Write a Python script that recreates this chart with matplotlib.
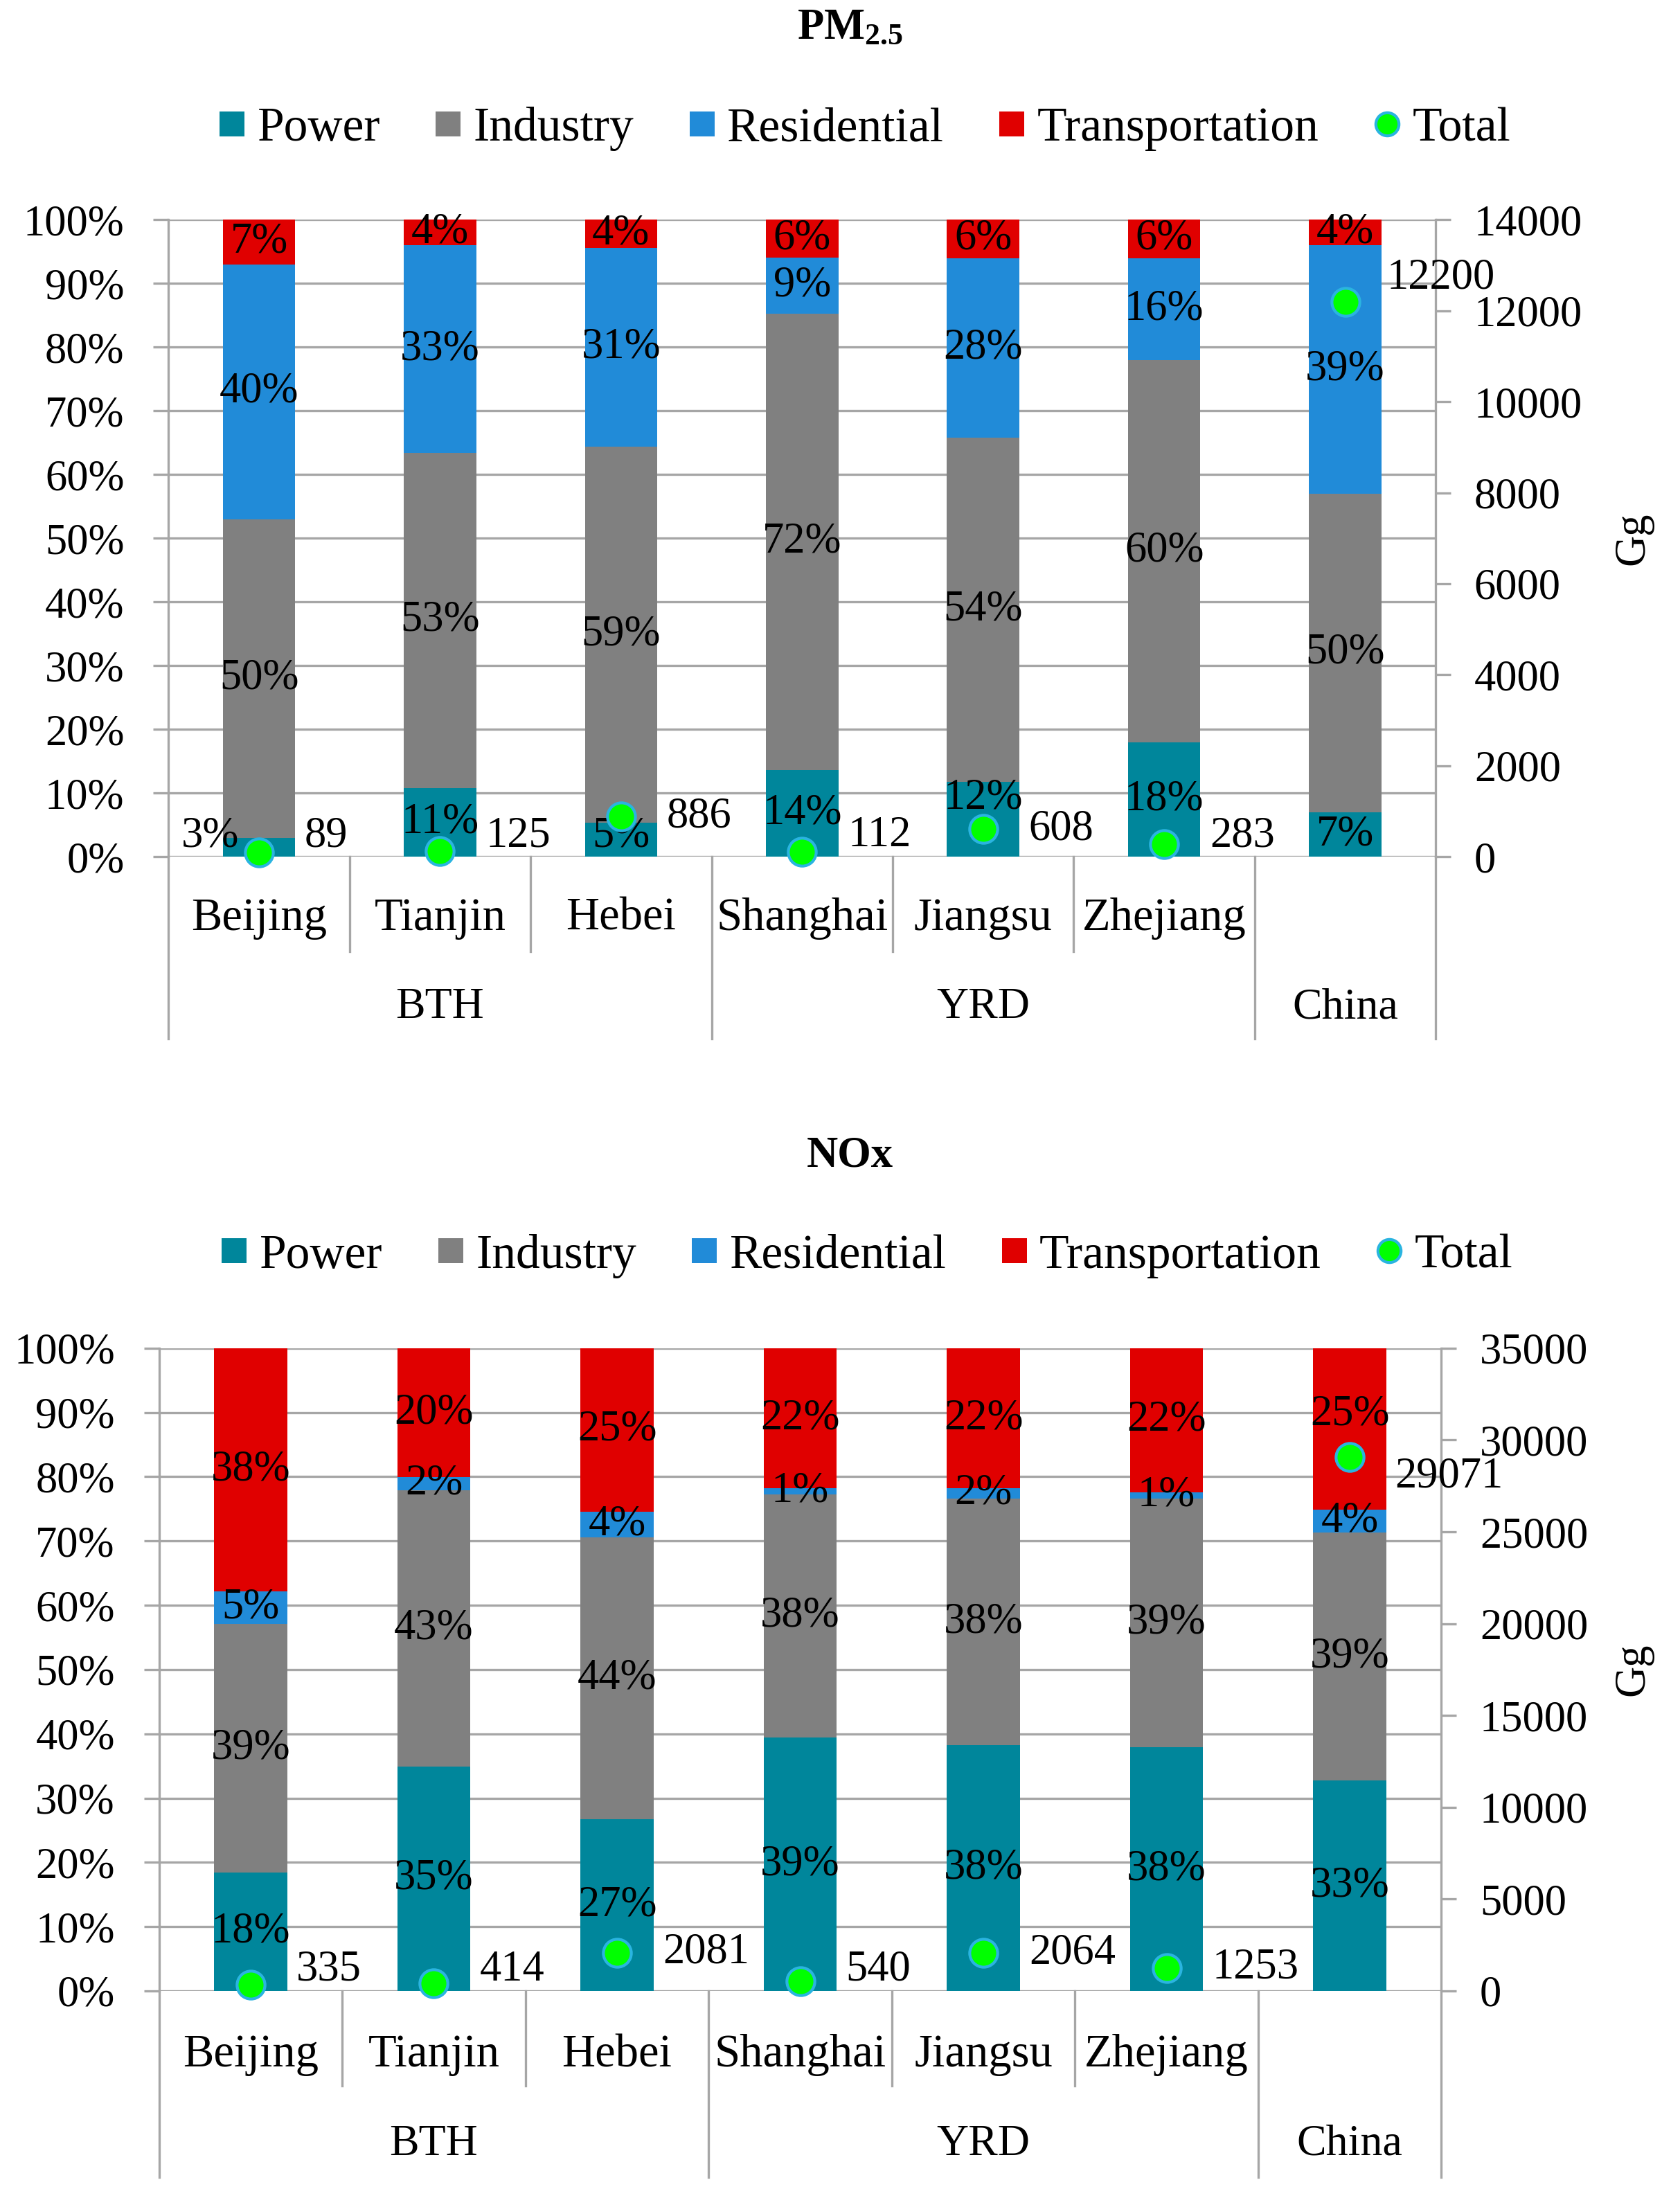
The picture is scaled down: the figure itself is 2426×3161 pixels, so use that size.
import matplotlib
matplotlib.use("Agg")
import matplotlib.pyplot as plt
from matplotlib.lines import Line2D

plt.rcParams['font.family'] = ['Liberation Serif', 'DejaVu Serif']
plt.rcParams['mathtext.fontset'] = 'custom'
plt.rcParams['mathtext.rm'] = 'Liberation Serif'
plt.rcParams['mathtext.bf'] = 'Liberation Serif:bold'

# ---------------- data ----------------
categories = ["Beijing", "Tianjin", "Hebei", "Shanghai", "Jiangsu", "Zhejiang", ""]
groups = ["BTH", "YRD", "China"]
group_spans = [(0, 2), (3, 5), (6, 6)]
sectors = ["Power", "Industry", "Residential", "Transportation"]

pm_power = [3.0, 10.8, 5.4, 13.6, 11.8, 18.0, 7.0]
pm_industry = [50.0, 52.6, 59.0, 71.7, 54.0, 60.0, 50.0]
pm_residential = [40.0, 32.6, 31.2, 8.8, 28.2, 16.0, 39.0]
pm_transport = [7.0, 4.0, 4.4, 5.9, 6.0, 6.0, 4.0]
pm_total = [89, 125, 886, 112, 608, 283, 12200]

nox_power = [18.4, 34.9, 26.7, 39.4, 38.2, 37.9, 32.7]
nox_industry = [38.7, 43.0, 43.9, 37.8, 38.4, 38.7, 38.6]
nox_residential = [5.1, 2.0, 4.0, 1.0, 1.6, 1.0, 3.6]
nox_transport = [37.8, 20.1, 25.4, 21.8, 21.8, 22.4, 25.1]
nox_total = [335, 414, 2081, 540, 2064, 1253, 29071]

# ---------------- style ----------------
COLORS = ['#00869B', '#808080', '#218BD8', '#E00000']
GRID = '#A6A6A6'
MFACE = '#00FF00'
MEDGE = '#2AB4E0'
FS = 45          # tick / data labels
FS_CAT = 48      # category labels
FS_GRP = 46      # group labels
FS_LEG = 50      # legend
W, H, DPI = 2426, 3161, 100

fig = plt.figure(figsize=(W / DPI, H / DPI), dpi=DPI)


def panel(rect, title, title_y, legend_xy, series, total, tmax, tstep,
          seg_shift, total_shift, sep_px):
    ax = fig.add_axes(rect)
    axpx = rect[3] * H
    n = len(categories)
    x = list(range(n))
    ax.set_xlim(-0.5, n - 0.5)
    ax.set_ylim(0, 100)
    ax.set_yticks(range(0, 101, 10))
    ax.set_yticklabels([f"{v}%" for v in range(0, 101, 10)], fontsize=FS)
    ax.set_xticks([])
    ax.yaxis.grid(True, color=GRID, linewidth=2.4)
    ax.set_axisbelow(True)
    for s in ['top', 'right', 'bottom']:
        ax.spines[s].set_visible(False)
    ax.spines['left'].set_color(GRID)
    ax.spines['left'].set_linewidth(2.4)
    ax.tick_params(axis='y', direction='out', length=16, width=2.4,
                   color=GRID, pad=30)

    bottoms = [0.0] * n
    min_c = 30.0 / axpx * 100
    for si, vals in enumerate(series):
        ax.bar(x, vals, bottom=bottoms, width=0.4, color=COLORS[si],
               linewidth=0, zorder=2)
        for i, v in enumerate(vals):
            yc = max(bottoms[i] + v / 2.0, min_c)
            dx, dy = seg_shift.get((si, i), (0, 0))
            ax.annotate(f"{v:.0f}%", xy=(i, yc), xytext=(dx, dy),
                        textcoords='offset pixels', ha='center', va='center',
                        fontsize=FS, zorder=5)
        bottoms = [b + v for b, v in zip(bottoms, vals)]

    ax2 = ax.twinx()
    ax2.set_ylim(0, tmax)
    ax2.set_yticks(range(0, tmax + 1, tstep))
    ax2.set_yticklabels([str(v) for v in range(0, tmax + 1, tstep)], fontsize=FS)
    for s in ['top', 'left', 'bottom']:
        ax2.spines[s].set_visible(False)
    ax2.spines['right'].set_color(GRID)
    ax2.spines['right'].set_linewidth(2.4)
    ax2.tick_params(axis='y', direction='out', length=16, width=2.4,
                    color=GRID, pad=24)
    ax2.plot(x, total, ls='none', marker='o', markersize=29,
             markerfacecolor=MFACE, markeredgecolor=MEDGE,
             markeredgewidth=3, zorder=6, clip_on=False)
    for i, t in enumerate(total):
        ppx = t / tmax * axpx
        dx, dy = total_shift.get(i, (66, 0))
        dy = dy + max(0, 30 - ppx)
        ax2.annotate(str(t), xy=(i, t), xytext=(dx, dy),
                     textcoords='offset pixels', ha='left', va='center',
                     fontsize=FS, zorder=7, annotation_clip=False)

    # multi-level category axis
    tr = ax.get_xaxis_transform()
    inner, outer, lab1, lab2 = [p / axpx for p in sep_px]
    for b in range(n + 1):
        xb = b - 0.5
        is_group = b in (0, 3, 6, 7)
        y_end = -outer if is_group else -inner
        ax.plot([xb, xb], [0, y_end], transform=tr, color=GRID,
                lw=2.4, clip_on=False, zorder=1)
    for i, c in enumerate(categories):
        if c:
            ax.text(i, -lab1, c, transform=tr, ha='center', va='center',
                    fontsize=FS_CAT)
    for g, (a, b) in zip(groups, group_spans):
        ax.text((a + b) / 2.0, -lab2, g, transform=tr, ha='center',
                va='center', fontsize=FS_GRP)

    fig.text(0.506, title_y, title, ha='center', va='center', fontsize=FS,
             fontweight='bold')
    handles = [Line2D([], [], ls='none', marker='s', markersize=26,
                      markerfacecolor=c, markeredgewidth=0) for c in COLORS]
    handles.append(Line2D([], [], ls='none', marker='o', markersize=24,
                          markerfacecolor=MFACE, markeredgecolor=MEDGE,
                          markeredgewidth=3))
    fig.legend(handles, sectors + ["Total"], loc='center',
               bbox_to_anchor=legend_xy, ncol=5, frameon=False,
               fontsize=FS_LEG, handlelength=0.55, handletextpad=0.25,
               columnspacing=1.14, borderaxespad=0)
    fig.text(0.972, rect[1] + rect[3] * 0.5, 'Gg', rotation=90,
             ha='center', va='center', fontsize=FS)
    return ax, ax2


panel([0.1003, 0.6086, 0.7543, 0.2910], r'$\mathbf{PM_{2.5}}$', 0.987,
      (0.5146, 0.9411),
      [pm_power, pm_industry, pm_residential, pm_transport], pm_total,
      14000, 2000, {(0, 0): (-71, 0), (0, 4): (0, 30)}, {6: (60, 34)},
      (137, 263, 89, 218))

panel([0.0947, 0.0905, 0.7632, 0.2936], 'NOx', 0.4717,
      (0.516, 0.4262),
      [nox_power, nox_industry, nox_residential, nox_transport], nox_total,
      35000, 5000, {(3, 6): (0, 21)}, {6: (65, -28)},
      (137, 269, 93, 222))

fig.savefig('out.png', dpi=DPI)
